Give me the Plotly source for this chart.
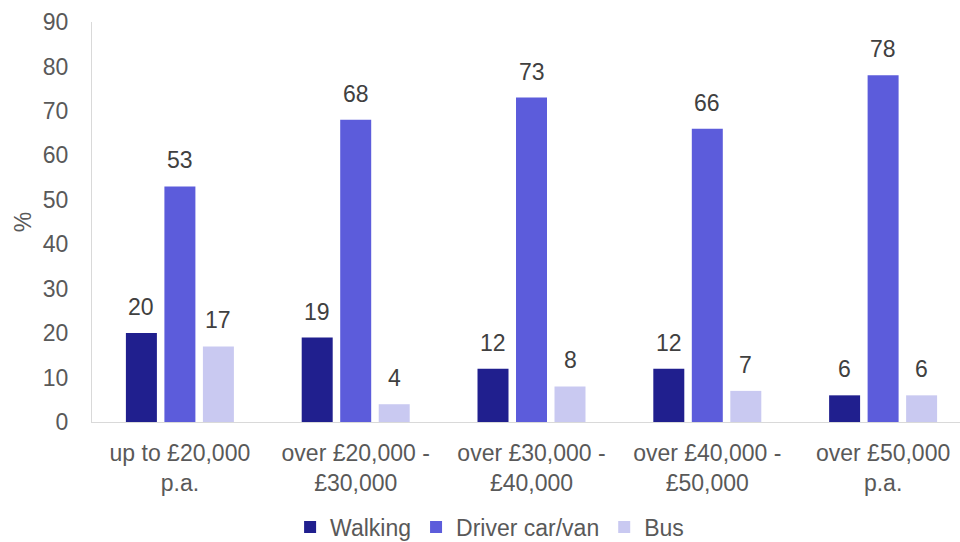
import plotly.graph_objects as go

categories = ["up to £20,000<br>p.a.", "over £20,000 -<br>£30,000", "over £30,000 -<br>£40,000",
              "over £40,000 -<br>£50,000", "over £50,000<br>p.a."]
walking = [20, 19, 12, 12, 6]
driver = [53, 68, 73, 66, 78]
bus = [17, 4, 8, 7, 6]

series = [("Walking", walking, "#201F8E"), ("Driver car/van", driver, "#5C5CDB"), ("Bus", bus, "#C9C9F1")]

FONT = "Liberation Sans, Arial, sans-serif"
TXT = "#595959"
BARGAP = 0.343
PLOT_W = 868
X_RANGE = [-0.5, 4.4374]
cat_px = PLOT_W / (X_RANGE[1] - X_RANGE[0])
slot_px = cat_px * (1 - BARGAP) / len(series)

fig = go.Figure()
annotations = []
for i, (name, vals, col) in enumerate(series):
    fig.add_trace(go.Bar(x=categories, y=vals, name=name, marker=dict(color=col, line=dict(width=0))))
    shift = (i - (len(series) - 1) / 2) * slot_px
    for c, v in zip(categories, vals):
        annotations.append(dict(x=c, y=v, text=str(v), showarrow=False, xshift=shift, yshift=26,
                                yanchor="middle", font=dict(family=FONT, size=23, color="#404040")))

fig.update_layout(
    width=960, height=542,
    margin=dict(l=92, r=0, t=22, b=120, autoexpand=False),
    plot_bgcolor="white", paper_bgcolor="white",
    font=dict(family=FONT, size=23, color=TXT),
    barmode="group", bargap=BARGAP, bargroupgap=0.195,
    showlegend=True,
    legend=dict(orientation="h", xref="container", x=0.51, xanchor="center",
                yref="container", y=(542 - 527) / 542, yanchor="middle",
                font=dict(size=23, color=TXT), itemwidth=30),
    annotations=annotations,
    yaxis=dict(range=[0, 90], dtick=10, showgrid=False, showline=True, linecolor="#D9D9D9",
               ticks="", zeroline=False, ticklabelstandoff=18, automargin=False,
               title=dict(text="%", font=dict(size=23, color=TXT), standoff=4),
               tickfont=dict(size=23, color=TXT)),
    xaxis=dict(range=X_RANGE, showline=True, linecolor="#D9D9D9", ticks="", ticklabelstandoff=10,
               automargin=False, tickfont=dict(size=23, color=TXT)),
)
fig.write_html("out.html", config={"displayModeBar": False},
               post_script="document.body.style.margin='0';document.body.style.overflow='hidden';")
